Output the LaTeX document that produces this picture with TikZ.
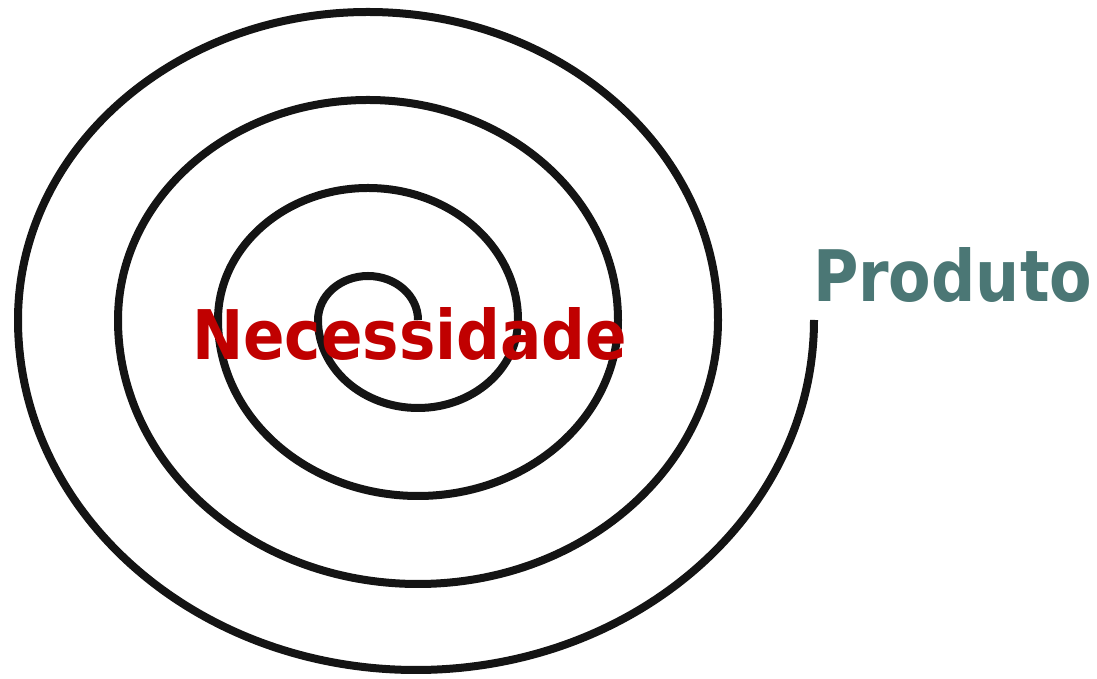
\documentclass[tikz,border=0pt]{standalone}
\usepackage{fontspec}
\setmainfont{DejaVu Sans}
\usepackage{graphicx}
\definecolor{needred}{HTML}{C00000}
\definecolor{prodteal}{HTML}{4B7775}
\definecolor{spiralink}{HTML}{141414}
\begin{document}
\begin{tikzpicture}[x=1pt,y=1pt,
  spiralline/.style={line width=8pt,draw=spiralink},
  lbl/.style={inner sep=0pt,outer sep=0pt,anchor=base west,font=\bfseries}]
\useasboundingbox (0,0) rectangle (1097,679);
\coordinate (s0) at (418,359);
\draw[spiralline] (s0)
  arc[start angle=0,end angle=180,x radius=50,y radius=44]
  arc[start angle=180,end angle=360,x radius=100,y radius=88]
  arc[start angle=0,end angle=180,x radius=150,y radius=132]
  arc[start angle=180,end angle=360,x radius=200,y radius=176]
  arc[start angle=0,end angle=180,x radius=250,y radius=220]
  arc[start angle=180,end angle=360,x radius=300,y radius=264]
  arc[start angle=0,end angle=180,x radius=350,y radius=308]
  arc[start angle=180,end angle=360,x radius=398,y radius=350]
  coordinate (s1);
\node[lbl,text=needred] (nec) at (192,319) {\resizebox{435pt}{52pt}{Necessidade}};
\node[lbl,text=prodteal] (prod) at (813,377) {\resizebox{279pt}{54pt}{Produto}};
\end{tikzpicture}
\end{document}
